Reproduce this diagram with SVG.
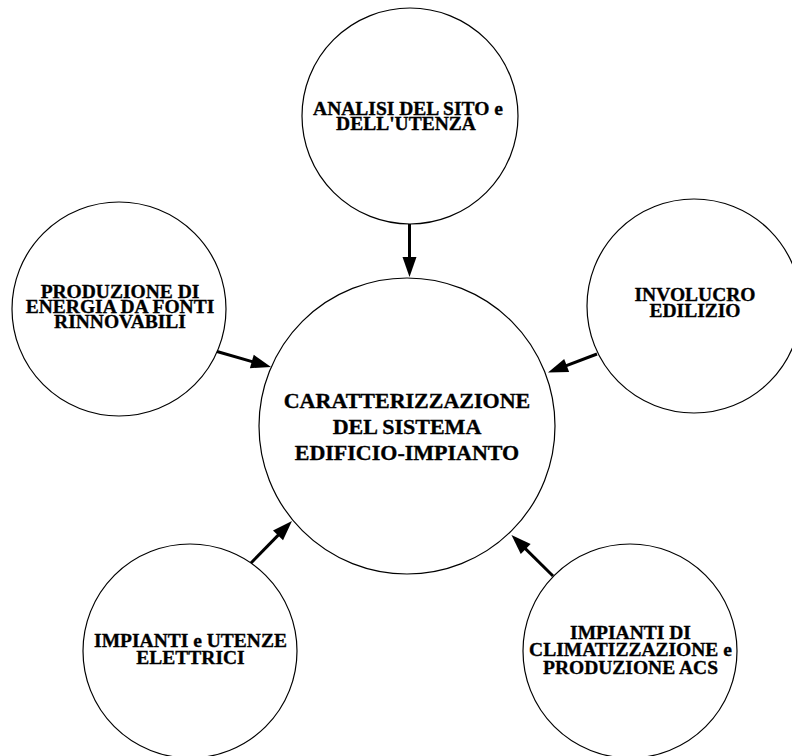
<svg xmlns="http://www.w3.org/2000/svg" width="792" height="756" viewBox="0 0 792 756">
<style>
.c{fill:#fff;stroke:#000;stroke-width:1.2}
.t{font-family:"Liberation Serif","Times New Roman",serif;font-weight:bold;font-size:19.5px;fill:#000;stroke:#000;stroke-width:0.35;text-anchor:middle}
.tc{font-size:22px}
.a{stroke:#000;stroke-width:3;fill:none;marker-end:url(#ah)}
</style>
<defs>
<marker id="ah" markerUnits="userSpaceOnUse" markerWidth="20" markerHeight="14" refX="8" refY="7" orient="auto" overflow="visible">
<path d="M0,0 L20,7 L0,14 z" fill="#000"/>
</marker>
</defs>
<rect width="792" height="756" fill="#fff"/>
<g id="node-center">
<circle class="c" cx="407" cy="426" r="148"/>
<text class="t tc" x="407" y="408">CARATTERIZZAZIONE</text>
<text class="t tc" x="407" y="434">DEL SISTEMA</text>
<text class="t tc" x="407" y="460">EDIFICIO-IMPIANTO</text>
</g>
<g id="node-sito">
<circle class="c" cx="410" cy="116" r="108"/>
<text class="t" x="408" y="114.5">ANALISI DEL SITO e</text>
<text class="t" x="406" y="129.5">DELL'UTENZA</text>
</g>
<g id="node-rinnovabili">
<circle class="c" cx="119" cy="309" r="107"/>
<text class="t" x="120" y="297.5">PRODUZIONE DI</text>
<text class="t" x="120" y="312.5">ENERGIA DA FONTI</text>
<text class="t" x="120" y="327.5">RINNOVABILI</text>
</g>
<g id="node-involucro">
<circle class="c" cx="694" cy="306" r="107"/>
<text class="t" x="695" y="301">INVOLUCRO</text>
<text class="t" x="695" y="317">EDILIZIO</text>
</g>
<g id="node-elettrici">
<circle class="c" cx="190" cy="651" r="107"/>
<text class="t" x="190.5" y="647">IMPIANTI e UTENZE</text>
<text class="t" x="190.5" y="664">ELETTRICI</text>
</g>
<g id="node-climatizzazione">
<circle class="c" cx="630" cy="651" r="107"/>
<text class="t" x="630.5" y="638.5">IMPIANTI DI</text>
<text class="t" x="630.5" y="656">CLIMATIZZAZIONE e</text>
<text class="t" x="630.5" y="673.5">PRODUZIONE ACS</text>
</g>
<g id="connectors">
<line class="a" x1="409.5" y1="224" x2="409.5" y2="265"/>
<line class="a" x1="217" y1="351.5" x2="259.5" y2="363.7"/>
<line class="a" x1="597" y1="354" x2="559.2" y2="368.3"/>
<line class="a" x1="251" y1="563" x2="283.6" y2="529.6"/>
<line class="a" x1="553" y1="576" x2="520" y2="543.4"/>
</g>
</svg>
